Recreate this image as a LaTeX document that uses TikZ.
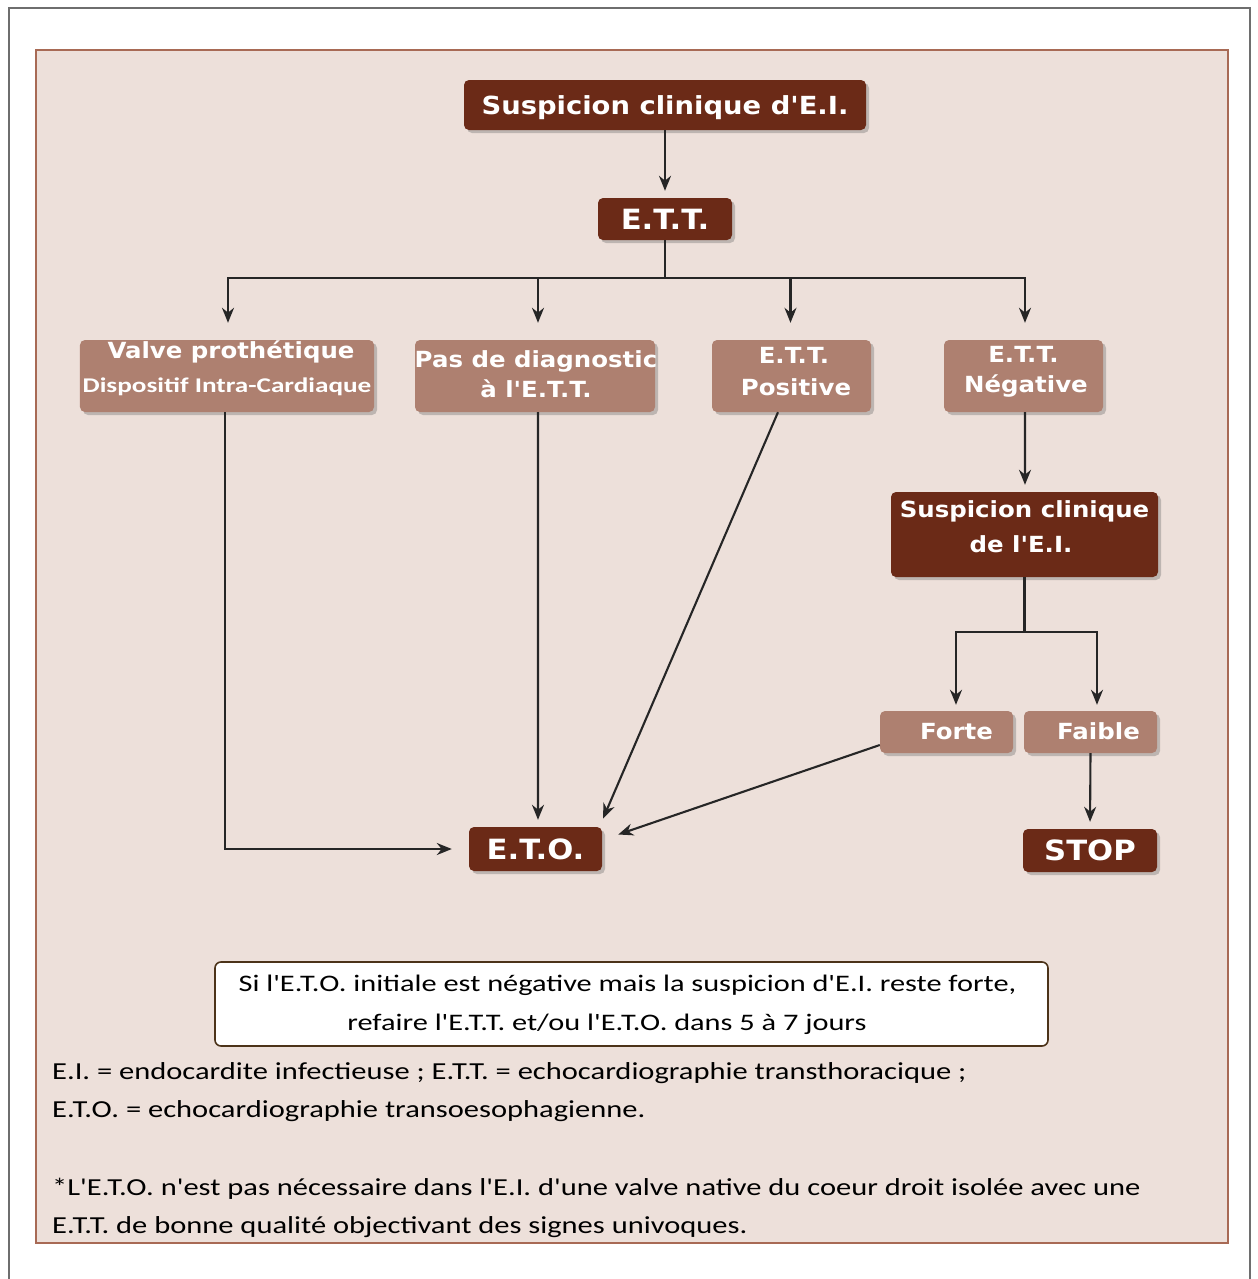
\documentclass[tikz,border=0pt]{standalone}
\usepackage{fontspec}
\setmainfont{Carlito}
\newfontfamily\bxf{DejaVu Sans}[FakeStretch=1.1]
\newfontfamily\calf{Carlito}[FakeStretch=1.25]
\newfontfamily\calnf{Carlito}[FakeStretch=1.28]
\newfontfamily\calbf{Carlito}[FakeStretch=1.3]
\usetikzlibrary{arrows.meta,shadows}
\definecolor{darkbr}{HTML}{6B2A17}
\definecolor{lightbr}{HTML}{AE8070}
\definecolor{bgbr}{HTML}{EDE0DA}
\definecolor{edgebr}{HTML}{A86A55}
\definecolor{framegray}{HTML}{6E6E6E}
\tikzset{
  box/.style={rounded corners=5bp, text=white, inner sep=0pt, text depth=0pt,
    drop shadow={shadow xshift=3bp, shadow yshift=-3bp, opacity=0.35, fill=black!60}},
  darkbox/.style={box, fill=darkbr},
  lightbox/.style={box, fill=lightbr},
  wt/.style={text=white, inner sep=0pt, anchor=base},
  lt/.style={wt, font=\bxf\bfseries\fontsize{22.3}{26}\selectfont},
  bigt/.style={font=\bxf\bfseries\fontsize{28}{32}\selectfont},
  legend/.style={anchor=base west, inner sep=0pt, font=\calf\fontsize{24.5}{28}\selectfont},
  arr/.style={line width=2.1bp, draw=black!85, -{Stealth[length=15bp,width=12bp]}},
  ln/.style={line width=2.1bp, draw=black!85},
}
\begin{document}
\begin{tikzpicture}[x=1bp,y=-1bp]
\useasboundingbox (0,0) rectangle (1258,1279);
\fill[white] (0,0) rectangle (1258,1279);
\draw[framegray, line width=2bp] (9,1279) -- (9,8) -- (1250,8) -- (1250,1279);
\draw[edgebr, fill=bgbr, line width=1.6bp] (36,50) rectangle (1228,1243);

% dark boxes
\node[darkbox, minimum width=402bp, minimum height=50bp, font=\bxf\bfseries\fontsize{25}{30}\selectfont] (top) at (665,105) {Suspicion clinique d'E.I.};
\node[darkbox, bigt, minimum width=134bp, minimum height=42bp] (ett) at (665,219) {E.T.T.};
\node[darkbox, bigt, minimum width=134bp, minimum height=43bp] (stop) at (1090,850.5) {STOP};
\node[darkbox, bigt, minimum width=133bp, minimum height=44bp] (eto) at (535.5,849) {E.T.O.};
\node[darkbox, minimum width=267bp, minimum height=85bp] (susp) at (1024.5,534.5) {};
\node[lt] (suspA) at (1024.5,517) {Suspicion clinique};
\node[lt] (suspB) at (1021,552) {de l'E.I.};

% light boxes
\node[lightbox, minimum width=294bp, minimum height=72bp] (valve) at (227,376) {};
\node[lt] (valveA) at (231,358) {Valve prothétique};
\node[wt, font=\calbf\bfseries\fontsize{21}{24}\selectfont] (valveB) at (227,392) {Dispositif Intra-Cardiaque};
\node[lightbox, minimum width=240bp, minimum height=72bp] (pas) at (535,376) {};
\node[lt] (pasA) at (536,367) {Pas de diagnostic};
\node[lt] (pasB) at (536,397) {à l'E.T.T.};
\node[lightbox, minimum width=159bp, minimum height=72bp] (pos) at (791.5,376) {};
\node[lt] (posA) at (794,363) {E.T.T.};
\node[lt] (posB) at (796,395) {Positive};
\node[lightbox, minimum width=159bp, minimum height=72bp] (neg) at (1023.5,376) {};
\node[lt] (negA) at (1023.5,362) {E.T.T.};
\node[lt] (negB) at (1026,392) {Négative};
\node[lightbox, minimum width=133bp, minimum height=42bp] (forte) at (946.5,732) {};
\node[lt] (forteT) at (956.5,739) {Forte};
\node[lightbox, minimum width=133bp, minimum height=42bp] (faible) at (1090.5,732) {};
\node[lt] (faibleT) at (1098.5,739) {Faible};

% note box
\node[draw=black!60!brown, line width=1.6bp, fill=white, rounded corners=6bp, minimum width=833bp, minimum height=84bp, inner sep=0pt] (note) at (631.5,1004) {};
\node[anchor=base, inner sep=0pt, font=\calnf\fontsize{23.8}{28}\selectfont] (noteA) at (627.5,991) {Si l'E.T.O. initiale est négative mais la suspicion d'E.I. reste forte,};
\node[anchor=base, inner sep=0pt, font=\calnf\fontsize{23.8}{28}\selectfont] (noteB) at (607,1030) {refaire l'E.T.T. et/ou l'E.T.O. dans 5 à 7 jours};

% legend
\node[legend] (l1) at (52,1079) {E.I. = endocardite infectieuse ; E.T.T. = echocardiographie transthoracique ;};
\node[legend] (l2) at (52,1117) {E.T.O. = echocardiographie transoesophagienne.};
\node[legend] (l3) at (52,1195) {*L'E.T.O. n'est pas nécessaire dans l'E.I. d'une valve native du coeur droit isolée avec une};
\node[legend] (l4) at (52,1233) {E.T.T. de bonne qualité objectivant des signes univoques.};

% connectors
\draw[arr, shorten >=7bp] (top.south) -- (ett.north);
\coordinate (bus) at (665,278);
\draw[ln] (ett.south) -- (bus);
\draw[arr, shorten >=17bp] (bus) -| ([xshift=1bp]valve.north);
\draw[arr, shorten >=17bp] (bus) -| ([xshift=3bp]pas.north);
\draw[arr, shorten >=17bp] (bus) -| ([xshift=-1bp]pos.north);
\draw[arr, shorten >=17bp] (bus) -| ([xshift=1.5bp]neg.north);
\draw[arr, shorten >=7bp] ([xshift=1.5bp]neg.south) -- ([xshift=0.5bp]susp.north);
\coordinate (bus2) at (1024.5,632);
\draw[ln] (susp.south) -- (bus2);
\draw[arr, shorten >=6bp] (bus2) -| ([xshift=9.5bp]forte.north);
\draw[arr, shorten >=6bp] (bus2) -| ([xshift=6.5bp]faible.north);
\draw[arr, shorten >=7bp] (faible.south) -- (stop.north);
\draw[arr, shorten >=17bp] ([xshift=-2bp]valve.south) |- (eto.west);
\draw[arr, shorten >=7bp] ([xshift=3bp]pas.south) -- ([xshift=2.5bp]eto.north);
\draw[arr, shorten >=9bp] ([xshift=-13.5bp]pos.south) -- ([xshift=64bp]eto.north);
\draw[arr, shorten >=17bp] ([yshift=-13bp]forte.west) -- ([yshift=9bp]eto.east);
\end{tikzpicture}
\end{document}
